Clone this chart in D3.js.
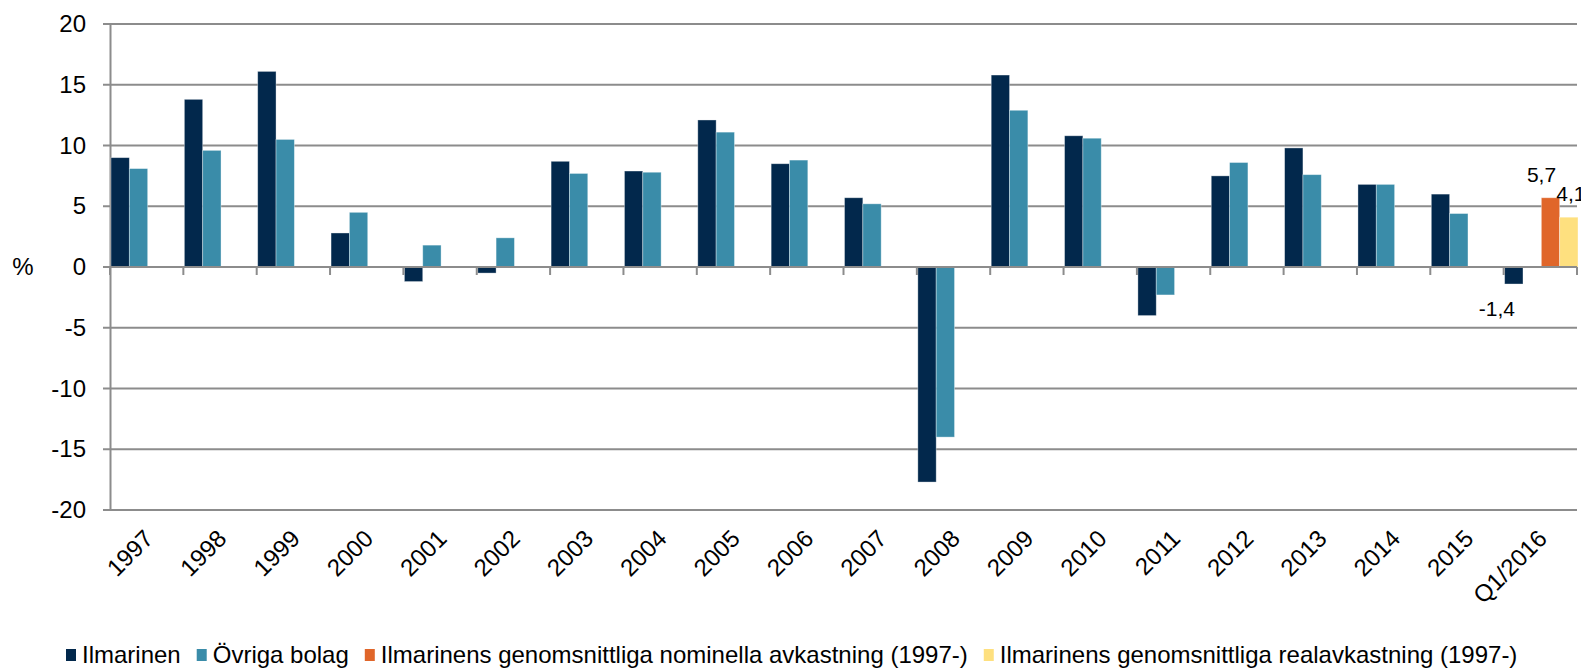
<!DOCTYPE html>
<html>
<head>
<meta charset="utf-8">
<script src="https://cdn.jsdelivr.net/npm/d3@7"></script>
<style>
  body { margin: 0; background: #fff; }
  svg { display: block; font-family: "Liberation Sans", Arial, sans-serif; }
</style>
</head>
<body>
<script>
// categories and series
var categories = ["1997","1998","1999","2000","2001","2002","2003","2004","2005","2006",
                  "2007","2008","2009","2010","2011","2012","2013","2014","2015","Q1/2016"];
var ilmarinen = [9.0, 13.8, 16.1, 2.8, -1.2, -0.5, 8.7, 7.9, 12.1, 8.5,
                 5.7, -17.7, 15.8, 10.8, -4.0, 7.5, 9.8, 6.8, 6.0, -1.4];
var ovriga    = [8.1, 9.6, 10.5, 4.5, 1.8, 2.4, 7.7, 7.8, 11.1, 8.8,
                 5.2, -14.0, 12.9, 10.6, -2.3, 8.6, 7.6, 6.8, 4.4, null];
var nominell  = [null,null,null,null,null,null,null,null,null,null,
                 null,null,null,null,null,null,null,null,null, 5.7];
var real      = [null,null,null,null,null,null,null,null,null,null,
                 null,null,null,null,null,null,null,null,null, 4.1];
var seriesNames = ["Ilmarinen", "Övriga bolag",
                   "Ilmarinens genomsnittliga nominella avkastning (1997-)",
                   "Ilmarinens genomsnittliga realavkastning (1997-)"];
var colors = ["#02284c", "#3a8ca9", "#e0662a", "#fee07f"];
var yTicks = [-20, -15, -10, -5, 0, 5, 10, 15, 20];
// values that carry a data label (last category only)
var labelled = [{s: 0, c: 19, dx: -16, dy: 32}, {s: 2, c: 19, dx: -8, dy: -16}, {s: 3, c: 19, dx: 3, dy: -16}];

var w = 1581, h = 671;
var mLeft = 110, mRight = 1577, mTop = 24, mBottom = 510;

var allSeries = [ilmarinen, ovriga, nominell, real];
var rows = [];
categories.forEach(function(c, i) {
  allSeries.forEach(function(s, k) {
    if (s[i] != null) rows.push({cat: c, key: k, value: s[i]});
  });
});

var svg = d3.select("body").append("svg")
  .attr("width", w).attr("height", h);

var x0 = d3.scaleBand().domain(categories).range([mLeft, mRight]).padding(0);
var x1 = d3.scaleBand().domain([0, 1, 2, 3]).range([0, x0.bandwidth()]).padding(0);
var y = d3.scaleLinear().domain([-20, 20]).range([mBottom, mTop]);

// gridlines
svg.append("g")
  .selectAll("line").data(yTicks).enter().append("line")
  .attr("x1", mLeft - 7).attr("x2", mRight)
  .attr("y1", d => y(d)).attr("y2", d => y(d))
  .attr("stroke", "#8c8c8c").attr("stroke-width", 2);

// y axis (plain hyphen for negatives, like the original)
var yAxis = d3.axisLeft(y).tickValues(yTicks).tickSize(0).tickPadding(24)
  .tickFormat(d => String(d));
svg.append("g")
  .attr("transform", "translate(" + mLeft + ",0)")
  .call(yAxis)
  .call(g => g.select(".domain").attr("stroke", "#8c8c8c").attr("stroke-width", 2))
  .selectAll("text")
  .attr("font-size", 24).attr("fill", "#000")
  .attr("font-family", "Liberation Sans, Arial, sans-serif");

svg.append("text")
  .attr("x", 23).attr("y", y(0) + 8)
  .attr("text-anchor", "middle")
  .attr("font-size", 24)
  .text("%");

// bars
svg.append("g").selectAll("rect").data(rows).enter().append("rect")
  .attr("x", d => x0(d.cat) + x1(d.key) + 1)
  .attr("width", x1.bandwidth())
  .attr("y", d => y(Math.max(0, d.value)))
  .attr("height", d => Math.abs(y(d.value) - y(0)))
  .attr("fill", d => colors[d.key])
  .attr("stroke", "rgba(255,255,255,0.45)")
  .attr("stroke-width", 0.8);

// x axis at zero with ticks at category boundaries
var xTickPos = categories.map(c => x0(c)).concat([mRight]);
svg.append("g").selectAll("line").data(xTickPos).enter().append("line")
  .attr("x1", d => d).attr("x2", d => d)
  .attr("y1", y(0)).attr("y2", y(0) + 8)
  .attr("stroke", "#8c8c8c").attr("stroke-width", 2);
svg.append("line")
  .attr("x1", mLeft).attr("x2", mRight)
  .attr("y1", y(0)).attr("y2", y(0))
  .attr("stroke", "#8c8c8c").attr("stroke-width", 2);

// category labels, rotated
svg.append("g").selectAll("text").data(categories).enter().append("text")
  .attr("transform", d => "translate(" + (x0(d) + x0.bandwidth() / 2 + 8) + "," + (mBottom + 30) + ") rotate(-45)")
  .attr("text-anchor", "end")
  .attr("font-size", 24)
  .text(d => d);

// data labels
svg.append("g").selectAll("text").data(labelled).enter().append("text")
  .attr("x", d => x0(categories[d.c]) + x1(d.s) + x1.bandwidth() / 2 + d.dx)
  .attr("y", d => y(allSeries[d.s][d.c]) + d.dy)
  .attr("text-anchor", "middle")
  .attr("font-size", 21)
  .text(d => String(allSeries[d.s][d.c]).replace(".", ","));

// legend, entries laid out one after another
var legend = svg.append("g").attr("transform", "translate(66,663)");
var lx = 0;
seriesNames.forEach(function(name, k) {
  legend.append("rect")
    .attr("x", lx).attr("y", -14).attr("width", 10).attr("height", 12)
    .attr("fill", colors[k]);
  var t = legend.append("text")
    .attr("x", lx + 16).attr("y", 0)
    .attr("font-size", 24)
    .text(name);
  lx += 16 + t.node().getComputedTextLength() + 16;
});
</script>
</body>
</html>
